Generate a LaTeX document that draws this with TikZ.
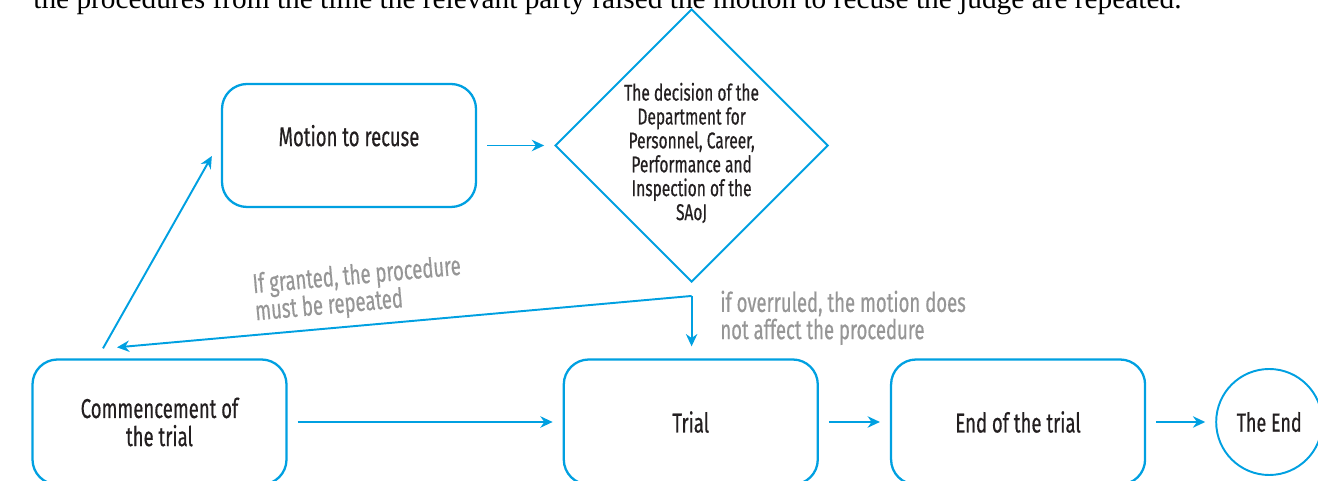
\documentclass[tikz,border=0pt]{standalone}
\usepackage{fontspec}
\setmainfont{Liberation Serif}
\newfontfamily\condfont[FakeStretch=0.68,FakeBold=0.5]{Fira Sans}
\usepackage{tikz}
\usetikzlibrary{positioning}
\usetikzlibrary{arrows.meta}
\usetikzlibrary{shapes,calc}
\definecolor{flowblue}{RGB}{0,160,225}
\definecolor{notegray}{RGB}{150,150,150}
\definecolor{inkblack}{RGB}{35,31,32}
\tikzset{box node/.style={rectangle,rounded corners=0.5cm,draw=flowblue,line width=1.3pt,minimum width=5.08cm,minimum height=2.5cm,align=center,text=inkblack,font=\condfont\fontsize{15.5}{16}\selectfont},
  decision node/.style={diamond,draw=flowblue,line width=1.1pt,minimum width=5.46cm,minimum height=5.46cm,inner sep=0pt},
  decision text/.style={align=center,text=inkblack,inner sep=0pt,font=\condfont\fontsize{13}{13.6}\selectfont},
  end node/.style={circle,draw=flowblue,line width=1.1pt,minimum size=2.12cm,inner sep=0pt,text=inkblack,font=\condfont\fontsize{15}{16}\selectfont},
  note/.style={align=left,text=notegray,inner sep=1pt,font=\condfont\fontsize{15.5}{15.5}\selectfont},
  flow/.style={->,draw=flowblue,line width=1.1pt,shorten <=0.2cm,shorten >=0.2cm},}

\begin{document}
\begin{tikzpicture}[>={Stealth[length=7pt,width=6.5pt]},node distance=1.42cm]
    \useasboundingbox (0,0) rectangle (26.36,9.62);
    \clip (0,0) rectangle (26.36,9.62);

    % last line of the paragraph above the chart
    \node[anchor=base west,inner sep=0pt,font=\fontsize{16.7}{18}\selectfont] (para) at (0.66,9.44)
        {the procedures from the time the relevant party raised the motion to recuse the judge are repeated.};

    \node[box node] (start) at (3.19,1.18) {Commencement of\\the trial};
    \node[box node] (trial) [right = 5.5cm of start] {Trial};
    \node[box node] (endtrial) [right = of trial] {End of the trial};
    \node[end node] (theend) [right = 1.38cm of endtrial] {The End};
    \node[box node,minimum height=2.46cm,text depth=0.4cm] (motion) at (6.98,6.71) {Motion to recuse};
    \node[decision node] (decision) [right = 1.54cm of motion] {};
    \node[decision text] at ([yshift=-0.15cm]decision.center)
        {The decision of the\\Department for\\Personnel, Career,\\Performance and\\Inspection of the\\SAoJ};
    \coordinate (split) at ([yshift=-0.26cm]decision.south);

    \draw[flow] (start) -- (trial);
    \draw[flow] (trial) -- (endtrial);
    \draw[flow] (endtrial) -- (theend);
    \draw[flow] (motion.east) -- (decision.west);
    \draw[flow,shorten <=0pt,shorten >=0pt] ([xshift=-1.13cm,yshift=0.2cm]start.north)
        -- ([xshift=-0.18cm,yshift=-0.21cm]motion.west);
    \draw[flow,shorten <=0pt,shorten >=0pt] (split) -- ([xshift=-0.85cm,yshift=0.22cm]start.north)
        node[note,pos=0.575,sloped,above=0.12cm] {If granted, the procedure\\must be repeated};
    \draw[flow,shorten <=0pt,shorten >=0.24cm] (split) -- (split |- trial.north)
        node[note,pos=0.35,right=0.52cm] {if overruled, the motion does\\not affect the procedure};
\end{tikzpicture}
\end{document}
